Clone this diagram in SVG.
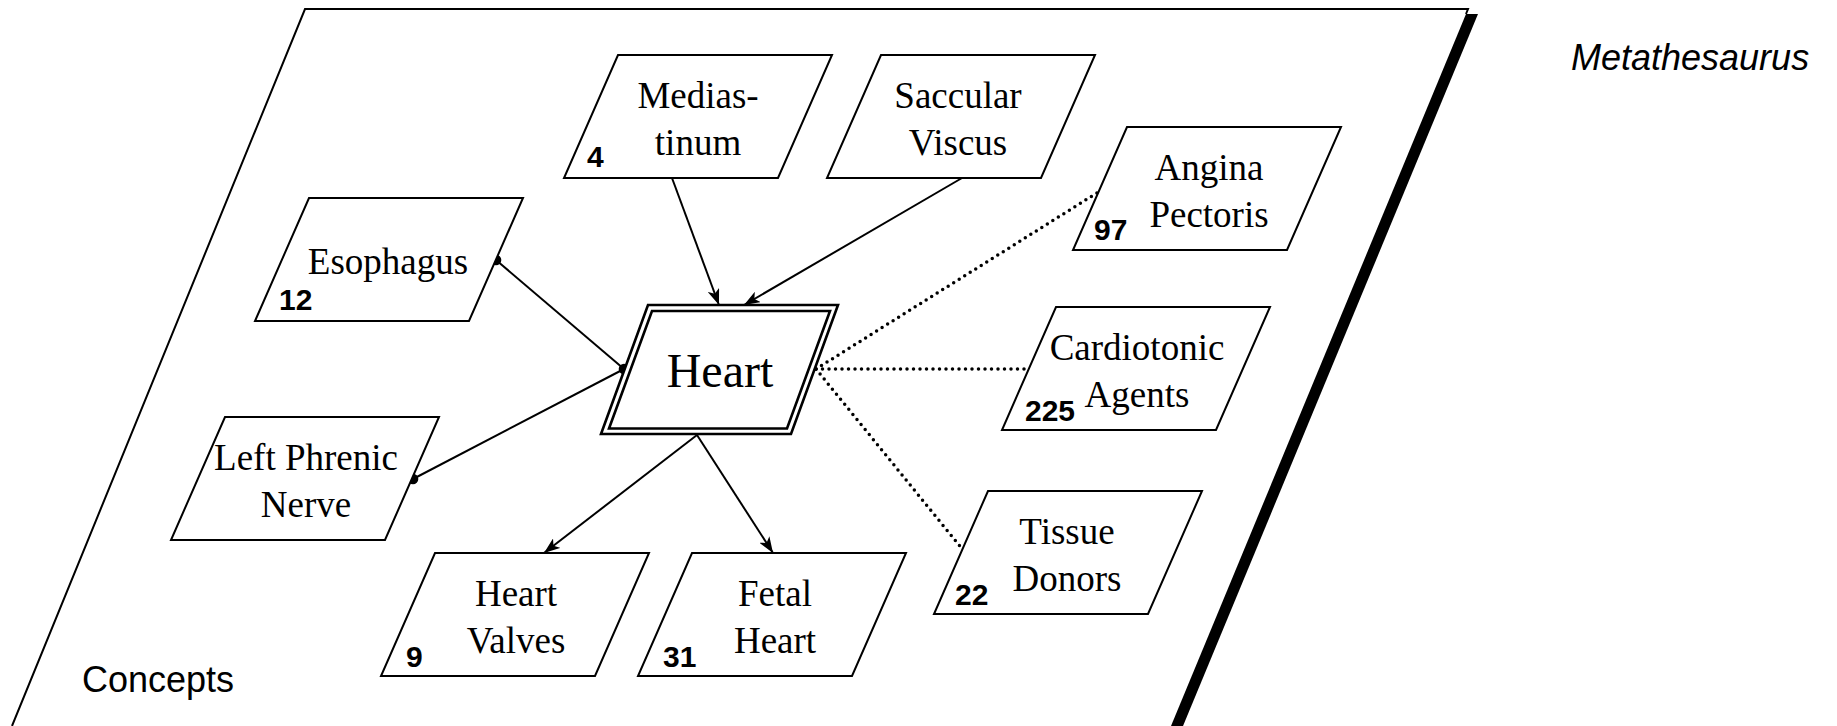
<svg xmlns="http://www.w3.org/2000/svg" width="1837" height="726" viewBox="0 0 1837 726">
<style>
.box{fill:#fff;stroke:#000;stroke-width:2}
.hb{fill:none;stroke:#000;stroke-width:2.6}
.lbl{font-family:"Liberation Serif","Times New Roman",serif;font-size:37px;text-anchor:middle;fill:#000}
.num{font-family:"Liberation Sans",Arial,sans-serif;font-size:30px;font-weight:bold;fill:#000}
.cap{font-family:"Liberation Sans",Arial,sans-serif;font-size:36px;fill:#000}
.ln{fill:none;stroke:#000;stroke-width:2}
.dot{fill:none;stroke:#000;stroke-width:3.5;stroke-linecap:round;stroke-dasharray:0 6.5}
</style>
<defs>
<marker id="ah" viewBox="0 0 16 12" refX="16" refY="6" markerWidth="16" markerHeight="12" markerUnits="userSpaceOnUse" orient="auto">
<path d="M0,0 L16,6 L0,12 L4,6 Z" fill="#000"/>
</marker>
</defs>
<g id="plane">
<path d="M12,726 L305,9 L1468,9 L1466,14" fill="none" stroke="#000" stroke-width="2"/>
<polygon points="1466,14 1478,14 1183,726 1171,726" fill="#000"/>
<text class="cap" x="82" y="692">Concepts</text>
<text class="cap" x="1571" y="70" font-size="37" font-style="italic">Metathesaurus</text>
</g>
<g id="connectors">
<line class="ln" x1="672" y1="178" x2="719" y2="305" marker-end="url(#ah)"/>
<line class="ln" x1="962" y1="178" x2="744" y2="305" marker-end="url(#ah)"/>
<line class="ln" x1="496" y1="260" x2="624" y2="369"/>
<line class="ln" x1="413" y1="479" x2="624" y2="369"/>
<line class="ln" x1="697" y1="435" x2="544" y2="553" marker-end="url(#ah)"/>
<line class="ln" x1="697" y1="435" x2="773" y2="553" marker-end="url(#ah)"/>
<line class="dot" x1="816" y1="369" x2="1100" y2="191"/>
<line class="dot" x1="816" y1="369" x2="1026" y2="369"/>
<line class="dot" x1="816" y1="369" x2="963" y2="550"/>
<circle cx="496" cy="260" r="5.3"/>
<circle cx="413" cy="479" r="5.3"/>
<circle cx="624" cy="369" r="5.3"/>
</g>
<g id="n-mediastinum">
<polygon class="box" points="618,55 832,55 778,178 564,178"/>
<text class="lbl" x="698" y="108">Medias-</text>
<text class="lbl" x="698" y="155">tinum</text>
<text class="num" x="587" y="167">4</text>
</g>
<g id="n-saccular">
<polygon class="box" points="881,55 1095,55 1041,178 827,178"/>
<text class="lbl" x="958" y="108">Saccular</text>
<text class="lbl" x="958" y="155">Viscus</text>
</g>
<g id="n-angina">
<polygon class="box" points="1127,127 1341,127 1287,250 1073,250"/>
<text class="lbl" x="1209" y="180">Angina</text>
<text class="lbl" x="1209" y="227">Pectoris</text>
<text class="num" x="1094" y="240">97</text>
</g>
<g id="n-esophagus">
<polygon class="box" points="309,198 523,198 469,321 255,321"/>
<text class="lbl" x="388" y="274">Esophagus</text>
<text class="num" x="279" y="310">12</text>
</g>
<g id="n-heart">
<polygon fill="#fff" stroke="#000" stroke-width="2.6" points="648,305 838,305 791,434 601,434"/>
<polygon class="hb" points="652,311 830,311 787,428.5 609,428.5"/>
<text x="720" y="387" text-anchor="middle" font-family="Liberation Serif, Times New Roman, serif" font-size="48">Heart</text>
</g>
<g id="n-cardiotonic">
<polygon class="box" points="1056,307 1270,307 1216,430 1002,430"/>
<text class="lbl" x="1137" y="360">Cardiotonic</text>
<text class="lbl" x="1137" y="407">Agents</text>
<text class="num" x="1025" y="421">225</text>
</g>
<g id="n-phrenic">
<polygon class="box" points="225,417 439,417 385,540 171,540"/>
<text class="lbl" x="306" y="470">Left Phrenic</text>
<text class="lbl" x="306" y="517">Nerve</text>
</g>
<g id="n-tissue">
<polygon class="box" points="988,491 1202,491 1148,614 934,614"/>
<text class="lbl" x="1067" y="544">Tissue</text>
<text class="lbl" x="1067" y="591">Donors</text>
<text class="num" x="955" y="605">22</text>
</g>
<g id="n-valves">
<polygon class="box" points="435,553 649,553 595,676 381,676"/>
<text class="lbl" x="516" y="606">Heart</text>
<text class="lbl" x="516" y="653">Valves</text>
<text class="num" x="406" y="667">9</text>
</g>
<g id="n-fetal">
<polygon class="box" points="692,553 906,553 852,676 638,676"/>
<text class="lbl" x="775" y="606">Fetal</text>
<text class="lbl" x="775" y="653">Heart</text>
<text class="num" x="663" y="667">31</text>
</g>
</svg>
